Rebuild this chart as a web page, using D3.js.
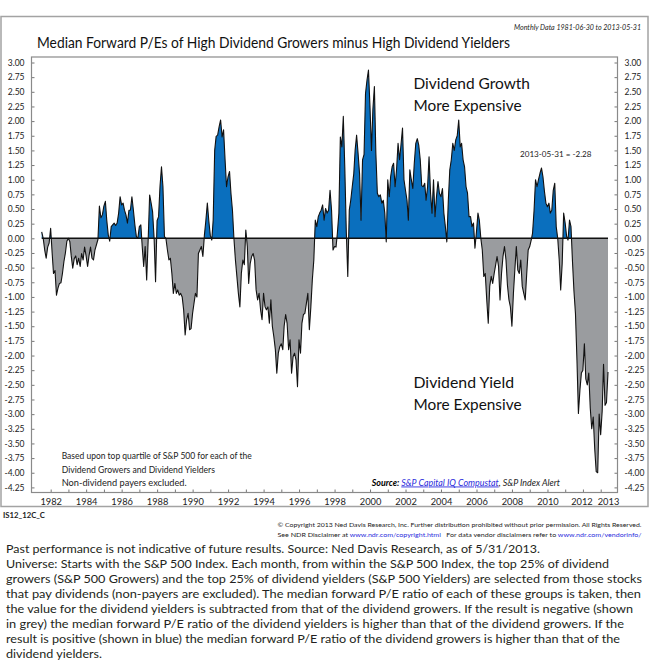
<!DOCTYPE html>
<html>
<head>
<meta charset="utf-8">
<script src="https://cdn.jsdelivr.net/npm/d3@7"></script>
<style>
body { margin: 0; background: #fff; }
svg { display: block; font-family: Lato, "Open Sans", sans-serif; }
</style>
</head>
<body>
<svg id="chart" width="650" height="660"></svg>
<script>
// Median forward P/E growers minus yielders, monthly, 1981-06-30 .. 2013-05-31
var values1980s = [
  0.11, 0.0, -0.2, -0.34, -0.15, -0.08,                                   // 1981 Jun-Nov
  0.17, -0.25, -0.6, -0.55, -0.97, -0.85, -0.77, -0.76, -0.6, -0.4, -0.25, -0.05, // 1982
  0.0, -0.06, -0.3, -0.51, -0.35, -0.3, -0.45, -0.34, -0.48, -0.26, -0.37, -0.15, // 1983
  -0.3, -0.48, -0.3, -0.15, -0.34, -0.37, -0.2, -0.11, -0.02, 0.55, 0.35, 0.4,    // 1984
  0.55, 0.63, 0.31, 0.06, -0.05, 0.2, 0.23, 0.26, 0.22, 0.26, 0.43, 0.71,         // 1985
  0.57, 0.6, 0.48, 0.4, 0.26, 0.48, 0.48, 0.71, 0.48, 0.23, 0.03, 0.0,            // 1986
  0.2, 0.23, -0.14, -0.48, -0.14, -0.71, -0.05, 0.74, 0.6, 0.45, 0.0, -0.74,      // 1987
  0.3, 0.37, 0.88, 1.22, 0.88, 0.03, 0.0, -0.2, -0.37, -0.34, -0.6, -0.94,        // 1988
  -0.77, -0.94, -0.88, -0.97, -0.94, -1.0, -1.22, -1.65, -1.39, -1.28, -1.56, -1.54 // 1989
];
var values1990s = [
  -1.28, -1.1, -0.94, -1.0, -0.26, -0.2, -0.14, -0.31, 0.05, 0.3, 0.6, 0.3,       // 1990
  0.05, -0.03, 0.31, 1.5, 1.74, 1.76, 1.9, 2.02, 1.73, 1.85, 1.34, 0.88,          // 1991
  1.05, 1.14, 0.77, 0.48, 0.0, -0.37, -0.65, -0.94, -1.17, -0.6, -0.37, -0.45,    // 1992
  0.14, -0.14, -0.77, -0.43, -0.31, -0.26, -0.37, -0.88, -1.05, -0.94, -1.22, -1.39, // 1993
  -0.94, -1.17, -1.22, -1.17, -1.45, -1.05, -1.5, -1.68, -1.9, -2.3, -1.96, -1.85,  // 1994
  -1.8, -1.9, -1.5, -1.3, -1.45, -1.9, -1.73, -2.3, -2.02, -1.96, -2.08, -2.53,     // 1995
  -1.73, -1.96, -1.45, -1.3, -1.28, -1.11, -0.94, -1.56, -1.17, -0.71, -0.37, 0.31, // 1996
  0.2, 0.37, 0.43, 0.48, 0.57, 0.31, 0.51, 0.43, 0.48, 0.82, 0.48, -0.2,          // 1997
  -0.14, -0.15, 0.09, 0.43, 1.73, 1.56, 2.08, 1.2, 0.1, -0.65, 0.48, 0.65,        // 1998
  0.88, 1.1, 1.5, 1.76, 1.45, 1.1, 0.31, 1.34, 1.43, 2.47, 2.7, 2.87              // 1999
];
var values2000s = [
  2.25, 1.5, 2.2, 2.59, 1.45, 0.77, 0.71, 0.74, 0.6, 0.65, 0.43, -0.06,           // 2000
  1.0, 0.71, 1.05, 1.22, 1.28, 0.88, 1.17, 1.62, 1.34, 1.6, 1.88, 1.0,            // 2001
  0.82, 0.65, 0.31, 1.17, 1.0, 0.85, 1.28, 1.62, 1.7, 1.59, 1.34, 0.9,            // 2002
  0.88, 0.94, 0.65, 0.88, 1.39, 0.77, 0.43, 1.0, 0.37, 0.71, 0.97, 0.77,          // 2003
  0.71, 0.85, 0.43, 0.2, -0.06, 0.65, 1.17, 1.34, 1.62, 1.5, 1.68, 1.75,          // 2004
  2.02, 1.56, 1.62, 1.34, 1.22, 0.88, 0.77, 0.37, 0.37, 0.2, 0.26, -0.17,         // 2005
  0.11, 0.43, 0.31, 0.0, -0.2, -0.65, -0.6, -1.05, -1.45, -0.82, -0.65, -0.77,    // 2006
  -0.6, -0.45, -0.31, -0.48, -1.05, -0.6, -0.31, -0.14, -0.37, -0.8, -1.05, -1.17, // 2007
  -1.5, -0.94, -0.54, -0.14, -0.54, -0.6, -0.37, -0.82, -0.94, -1.05, -0.6, -0.2,  // 2008
  -0.14, -0.03, 0.09, 0.48, 1.0, 0.88, 1.0, 1.11, 1.2, 1.05, 0.8, 0.6             // 2009
];
var values2010s = [
  0.54, 0.6, 0.43, 0.48, 0.82, 0.94, 0.2, 0.0, -0.37, -0.88, -0.43, 0.43,         // 2010
  0.26, 0.03, -0.03, 0.31, 0.2, -0.4, -0.9, -1.28, -2.08, -2.99, -2.59, -2.3,     // 2011
  -2.25, -1.8, -2.4, -2.5, -2.3, -2.9, -3.25, -3.05, -3.6, -3.98, -4.0, -3.0,     // 2012
  -3.35, -2.95, -2.15, -2.85, -2.8, -2.28                                         // 2013
];

var yTickValues = d3.range(-4.25, 3.001, 0.25);
var xTickYears = d3.range(1982, 2014);
var xLabelText = ["1982", "1984", "1986", "1988", "1990", "1992", "1994", "1996", "1998",
  "2000", "2002", "2004", "2006", "2008", "2010", "2012", "2013"];
var xLabelDates = ["1982-01-01", "1984-01-01", "1986-01-01", "1988-01-01", "1990-01-01",
  "1992-01-01", "1994-01-01", "1996-01-01", "1998-01-01", "2000-01-01", "2002-01-01",
  "2004-01-01", "2006-01-01", "2008-01-01", "2010-01-01", "2011-12-01", "2013-05-31"];

var noteLines = ["Based upon top quartile of S&P 500 for each of the",
  "Dividend Growers and Dividend Yielders", "Non-dividend payers excluded."];
var noteWidths = [190, 153.3, 125];
var footLines = [
  "Past performance is not indicative of future results. Source: Ned Davis Research, as of 5/31/2013.",
  "Universe: Starts with the S&P 500 Index. Each month, from within the S&P 500 Index, the top 25% of dividend",
  "growers (S&P 500 Growers) and the top 25% of dividend yielders (S&P 500 Yielders) are selected from those stocks",
  "that pay dividends (non-payers are excluded). The median forward P/E ratio of each of these groups is taken, then",
  "the value for the dividend yielders is subtracted from that of the dividend growers. If the result is negative (shown",
  "in grey) the median forward P/E ratio of the dividend yielders is higher than that of the dividend growers. If the",
  "result is positive (shown in blue) the median forward P/E ratio of the dividend growers is higher than that of the",
  "dividend yielders."];
var footWidths = [534, 603, 636, 635, 627, 618, 614, 96];

var allValues = values1980s.concat(values1990s, values2000s, values2010s);
var data = allValues.map(function (v, i) {
  return { date: new Date(1981, 6 + i, 0), value: v };
});

var svg = d3.select("#chart");
var box = { left: 31.5, right: 617.5, top: 57, bottom: 492.5 };
var blue = "#0a6fbe", grey = "#9a9c9f";

var x = d3.scaleTime()
  .domain([data[0].date, data[data.length - 1].date])
  .range([41.7, 608]);
var y = d3.scaleLinear().domain([-4.25, 3]).range([487.4, 62.5]);

var fmt = d3.formatLocale({ decimal: ".", thousands: ",", grouping: [3], currency: ["$", ""], minus: "-" }).format(".2f");

function txt(g, xp, yp, s, size, len) {
  var t = g.append("text").attr("x", xp).attr("y", yp).attr("font-size", size).text(s);
  if (len) t.attr("textLength", len).attr("lengthAdjust", "spacingAndGlyphs");
  return t;
}

// outer frame
svg.append("rect").attr("x", 1).attr("y", 16.5).attr("width", 647).attr("height", 490)
  .attr("fill", "none").attr("stroke", "#a3a3a3").attr("stroke-width", 1.5);

txt(svg, 641, 30, "Monthly Data 1981-06-30 to 2013-05-31", 7.4, 127)
  .attr("text-anchor", "end").attr("font-style", "italic").attr("fill", "#222");
txt(svg, 37, 47.5, "Median Forward P/Es of High Dividend Growers minus High Dividend Yielders", 15.5, 473)
  .attr("fill", "#111");

// clip regions above / below zero
var defs = svg.append("defs");
defs.append("clipPath").attr("id", "above").append("rect")
  .attr("x", box.left).attr("y", box.top).attr("width", box.right - box.left).attr("height", y(0) - box.top);
defs.append("clipPath").attr("id", "below").append("rect")
  .attr("x", box.left).attr("y", y(0)).attr("width", box.right - box.left).attr("height", box.bottom - y(0));

var area = d3.area()
  .x(function (d) { return x(d.date); })
  .y0(y(0))
  .y1(function (d) { return y(d.value); });
var line = d3.line()
  .x(function (d) { return x(d.date); })
  .y(function (d) { return y(d.value); });

svg.append("path").datum(data).attr("d", area).attr("fill", blue).attr("clip-path", "url(#above)");
svg.append("path").datum(data).attr("d", area).attr("fill", grey).attr("clip-path", "url(#below)");
svg.append("line")
  .attr("x1", x(data[0].date)).attr("x2", x(data[data.length - 1].date))
  .attr("y1", y(0)).attr("y2", y(0)).attr("stroke", "#111").attr("stroke-width", 1.4);
svg.append("path").datum(data).attr("d", line)
  .attr("fill", "none").attr("stroke", "#111").attr("stroke-width", 1.1).attr("stroke-linejoin", "round");

// axes
var leftAxis = svg.append("g").attr("transform", "translate(" + box.left + ",0)")
  .call(d3.axisLeft(y).tickValues(yTickValues).tickSize(-3).tickPadding(7).tickFormat(fmt));
var rightAxis = svg.append("g").attr("transform", "translate(" + box.right + ",0)")
  .call(d3.axisRight(y).tickValues(yTickValues).tickSize(-3).tickPadding(7).tickFormat(fmt));
var tickAxis = svg.append("g").attr("transform", "translate(0," + box.bottom + ")")
  .call(d3.axisBottom(x).tickValues(xTickYears.map(function (yr) { return new Date(yr, 0, 1); }))
    .tickSize(-3).tickFormat(""));
var labelAxis = svg.append("g").attr("transform", "translate(0," + box.bottom + ")")
  .call(d3.axisBottom(x).tickValues(xLabelDates.map(function (s) { return d3.timeParse("%Y-%m-%d")(s); }))
    .tickSize(0).tickPadding(6).tickFormat(function (d, i) { return xLabelText[i]; }));

[leftAxis, rightAxis, tickAxis, labelAxis].forEach(function (g) {
  g.select(".domain").remove();
  g.selectAll("line").attr("stroke", "#777");
  g.selectAll("text").attr("font-size", 8.5).attr("fill", "#222").attr("font-family", "Lato, sans-serif");
});
labelAxis.selectAll("text").attr("font-size", 9.3);

svg.append("rect").attr("x", box.left).attr("y", box.top)
  .attr("width", box.right - box.left).attr("height", box.bottom - box.top)
  .attr("fill", "none").attr("stroke", "#8a8a8a").attr("stroke-width", 1.2);

// annotations
txt(svg, 413.5, 89, "Dividend Growth", 15.5, 116.5).attr("fill", "#111");
txt(svg, 413.5, 110.5, "More Expensive", 15.5, 108).attr("fill", "#111");
txt(svg, 413.5, 388.3, "Dividend Yield", 15.5, 100.5).attr("fill", "#111");
txt(svg, 413.5, 410, "More Expensive", 15.5, 108).attr("fill", "#111");
txt(svg, 520, 157, "2013-05-31 = " + fmt(allValues[allValues.length - 1]), 8.2, 71.5).attr("fill", "#222");

noteLines.forEach(function (s, i) {
  txt(svg, 61.7, 459.3 + i * 13.4, s, 9, noteWidths[i]).attr("fill", "#222");
});

var src = svg.append("text").attr("x", 371.7).attr("y", 485.5).attr("font-size", 8.8)
  .attr("font-style", "italic").attr("textLength", 188.3).attr("lengthAdjust", "spacingAndGlyphs");
src.append("tspan").attr("font-weight", "bold").text("Source:  ");
src.append("tspan").attr("fill", "#2b2bdc").attr("text-decoration", "underline").text("S&P Capital IQ Compustat");
src.append("tspan").attr("fill", "#222").text(", S&P Index Alert");

// footer
txt(svg, 3, 517.5, "IS12_12C_C", 6.8, 42).attr("font-weight", "bold").attr("fill", "#222");
txt(svg, 641.5, 527, "\u00a9 Copyright 2013 Ned Davis Research, Inc. Further distribution prohibited without prior permission. All Rights Reserved.", 6.4, 364)
  .attr("text-anchor", "end").attr("fill", "#222");
var disc = svg.append("text").attr("x", 641.5).attr("y", 536.5).attr("font-size", 6.4)
  .attr("text-anchor", "end").attr("fill", "#222").attr("textLength", 364).attr("lengthAdjust", "spacingAndGlyphs");
disc.append("tspan").text("See NDR Disclaimer at ");
disc.append("tspan").attr("fill", "#2b2bdc").text("www.ndr.com/copyright.html");
disc.append("tspan").text("\u00a0\u00a0\u00a0For data vendor disclaimers refer to ");
disc.append("tspan").attr("fill", "#2b2bdc").text("www.ndr.com/vendorinfo/");

footLines.forEach(function (s, i) {
  txt(svg, 6, 552.5 + i * 15, s, 12.2, footWidths[i]).attr("fill", "#231f20");
});
</script>
</body>
</html>
